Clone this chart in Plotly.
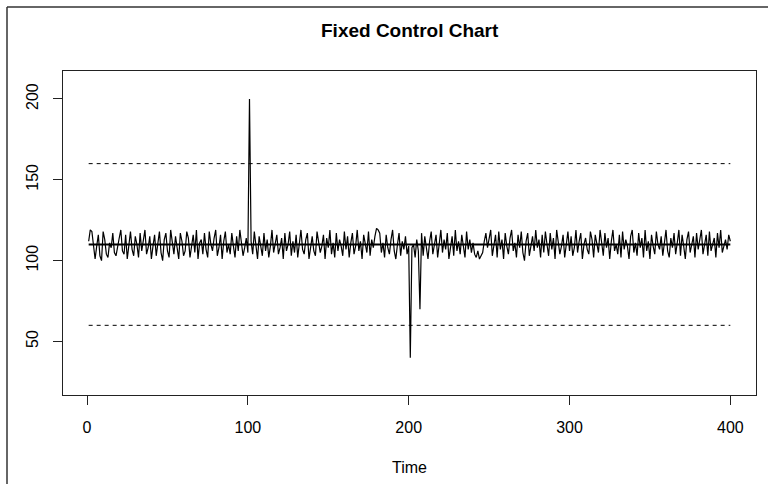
import plotly.graph_objects as go

# ---- data ----
seg_a = [112,119,118,107,101,109,116,103,100,118,113,104,102,111,108,117,105,103,110,114,
         119,106,104,116,101,112,118,107,103,115,110,102,117,106,113,119,104,108,115,101,
         109,116,103,111,118,105,100,113,117,106,102,119,110,104,115,108,101,117,112,103,
         106,118,114,102,109,116,105,119,101,111,113,104,117,107,102,118,110,106,114,119,
         103,108,116,101,112,118,105,110,104,117,109,102,115,106,119,111,103,108,114,105]
spike_high = [200]
seg_b = [112,104,118,107,101,115,110,103,117,106,113,102,109,119,105,111,116,104,108,
         114,101,117,106,110,118,103,112,105,116,102,109,119,107,104,113,117,101,110,115,
         106,103,118,112,105,109,116,101,114,108,119,104,111,102,117,106,113,109,103,118,
         107,115,102,111,117,104,109,119,106,112,101,116,110,105,118,103,113,108,115,120,
         119,117,105,111,102,116,108,104,113,119,106,101,110,117,103,112,107,115,104,109]
spike_low = [40]
seg_c = [108,110,102,113,106,70,117,103,115,108,101,112,118,104,109,116,102,111,119,105,
         113,107,117,101,110,115,103,119,106,112,104,116,109,102,118,107,113,105,111,
         104,102,106,101,103,105,112,117,108,115,119,103,110,116,102,118,107,113,101,117,
         109,104,114,119,106,111,102,116,108,118,105,100,112,117,103,110,115,106,119,108,
         113,102,116,105,118,110,103,117,107,114,101,119,112,104,109,116,102,111,118,106,
         115,103,108,119,105,112,117,101,110,114,107,104,118,113,102,116,109,105,119,111,
         103,117,108,114,101,112,119,106,110,104,116,102,118,107,113,109,101,115,119,105,
         111,103,117,108,114,102,119,106,112,101,116,109,104,118,110,107,115,103,113,119,
         106,102,114,108,117,104,111,119,103,116,109,101,113,118,105,110,115,102,117,107,
         112,119,104,109,116,103,118,106,111,114,102,117,108,119,105,110,113,107,116,112]
values = seg_a + spike_high + seg_b + spike_low + seg_c
time = list(range(1, len(values) + 1))
assert len(values) == 400, len(values)

center_value = 110
lower_limit = 60
upper_limit = 160
limit_span = [1, 400]

x_ticks = [0, 100, 200, 300, 400]
y_ticks = [50, 100, 150, 200]

FONT = "Liberation Sans, Arial, Helvetica, sans-serif"

fig = go.Figure()
fig.add_trace(go.Scatter(x=time, y=values, mode="lines",
                         line=dict(color="black", width=1.2), name="data",
                         hoverinfo="x+y"))
fig.add_trace(go.Scatter(x=limit_span, y=[center_value] * 2, mode="lines",
                         line=dict(color="black", width=2.2), name="center"))
fig.add_trace(go.Scatter(x=limit_span, y=[upper_limit] * 2, mode="lines",
                         line=dict(color="black", width=1, dash="4px,4px"), name="UCL"))
fig.add_trace(go.Scatter(x=limit_span, y=[lower_limit] * 2, mode="lines",
                         line=dict(color="black", width=1, dash="4px,4px"), name="LCL"))

L, R, T, B = 63, 12, 71, 89
W, H = 768, 484
pw, ph = W - L - R, H - T - B

def px(x):
    return (x - L) / pw

def py(y):
    return (H - B - y) / ph

fig.update_layout(
    width=W, height=H,
    margin=dict(l=L, r=R, t=T, b=B, pad=0),
    paper_bgcolor="white", plot_bgcolor="white",
    showlegend=False,
    font=dict(family=FONT, size=16, color="black"),
    xaxis=dict(range=[-14.96, 415.96], tickvals=x_ticks, ticks="outside", ticklen=9,
               tickcolor="#222", tickwidth=1, showgrid=False, zeroline=False,
               showline=True, mirror=True, linecolor="#222", linewidth=1.2,
               ticklabelstandoff=9,
               title=dict(text="Time", font=dict(size=16), standoff=26)),
    yaxis=dict(range=[16.9, 217.3], tickvals=y_ticks, ticks="outside", ticklen=9,
               tickcolor="#222", tickwidth=1, showgrid=False, zeroline=False,
               showline=True, mirror=True, linecolor="#222", linewidth=1.2,
               tickangle=-90, ticklabelstandoff=9),
    annotations=[dict(text="<b>Fixed Control Chart</b>", x=0.5, y=py(31),
                      xref="paper", yref="paper", xanchor="center", yanchor="middle",
                      showarrow=False, font=dict(size=19))],
    shapes=[
        dict(type="line", xref="paper", yref="paper", x0=px(7), x1=px(768), y0=py(7), y1=py(7),
             line=dict(color="#333", width=1.5)),
        dict(type="line", xref="paper", yref="paper", x0=px(7), x1=px(7), y0=py(7), y1=py(484),
             line=dict(color="#333", width=1.5)),
    ],
)

fig.write_html("out.html", config={"displayModeBar": False},
               post_script="document.body.style.margin='0';document.body.style.overflow='hidden';")
